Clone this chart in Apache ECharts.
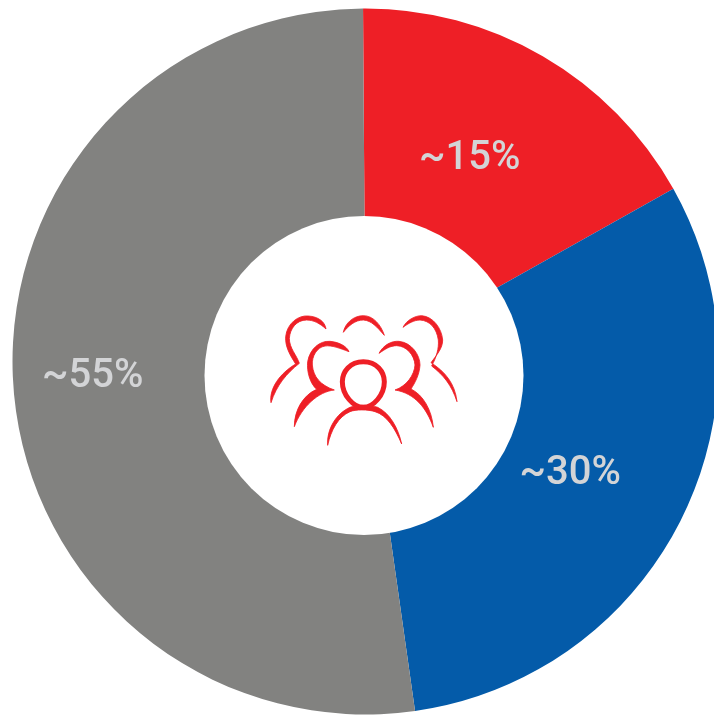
<!DOCTYPE html>
<html>
<head>
<meta charset="utf-8">
<style>
  html, body { margin: 0; padding: 0; background: #fff; }
  #main { width: 714px; height: 716px; }
</style>
<script src="https://cdn.jsdelivr.net/npm/echarts@6/dist/echarts.min.js"></script>
</head>
<body>
<div id="main"></div>
<script>
// values, labels are what the picture prints
var categories = ['Red', 'Blue', 'Grey'];
var values = [16.97, 30.9, 52.13];
var labels = ['~15%', '~30%', '~55%'];
var colors = ['#ee1f26', '#045ba9', '#828280'];

// icon outlines, in 3x pixels of the icon box
var iconFills = [
  'M48 308 C42 265 75 220 122 192 C105 165 90 140 92 110 C96 70 130 45 160 48 C190 50 210 65 213 87 C195 70 175 60 155 60 C125 60 105 85 103 115 C103 145 125 165 133 190 C95 220 65 255 48 308 Z',
  'M265 97 C270 70 295 47 325 47 C355 47 378 75 388 106 C365 80 350 62 325 60 C300 60 280 78 265 97 Z',
  'M444 82 C455 60 480 47 500 47 C535 50 560 85 563 120 C563 145 545 165 528 188 C570 215 600 250 606 305 C590 255 565 225 530 198 C545 170 552 145 550 120 C545 85 525 62 495 60 C478 60 460 70 444 82 Z',
  'M118 380 C118 330 145 285 185 268 C165 250 155 215 158 185 C165 145 195 122 225 124 C250 126 275 138 282 155 C255 145 230 135 210 138 C185 142 170 170 172 195 C175 230 195 255 238 270 C190 275 140 320 118 380 Z',
  'M372 160 C385 135 410 122 432 124 C470 128 495 165 495 195 C493 225 480 248 468 267 C505 285 530 330 535 382 C515 325 480 280 420 270 C455 258 478 225 480 195 C478 165 455 138 425 137 C405 137 390 148 372 160 Z',
  'M218 436 C215 385 245 340 285 322 C305 314 345 314 368 322 C405 340 430 385 440 432 C420 385 395 345 360 335 C340 328 300 328 285 335 C250 350 228 390 218 436 Z'
];
var iconHead = 'M325 185 C365 185 388 215 388 245 C388 285 355 322 325 322 C295 322 262 285 262 245 C262 215 285 185 325 185 Z';

var labelShift = [[-21, 13], [-19, 2], [-24, -3]];

var myChart = echarts.init(document.getElementById('main'), null, { renderer: 'canvas' });

// the graphic component has no free path type, so hole and icon go through a custom series
// the hole sits lower than the pie centre in the picture
function drawIcon() {
  var parts = [{
    type: 'circle',
    shape: { cx: 364, cy: 375.5, r: 159.5 },
    style: { fill: '#fff' }
  }];
  iconFills.forEach(function (d) {
    parts.push({
      type: 'path',
      x: 255, y: 300, scaleX: 1 / 3, scaleY: 1 / 3,
      shape: { pathData: d },
      style: { fill: '#ee1f26', stroke: '#ee1f26', lineWidth: 2.5, lineJoin: 'round' }
    });
  });
  parts.push({
    type: 'path',
    x: 255, y: 300, scaleX: 1 / 3, scaleY: 1 / 3,
    shape: { pathData: iconHead },
    style: { fill: 'none', stroke: '#ee1f26', lineWidth: 15 }
  });
  return { type: 'group', children: parts };
}

var option = {
  backgroundColor: '#fff',
  animation: false,
  series: [{
    type: 'pie',
    center: [365.5, 361.5],
    radius: [140, 353],
    startAngle: 90.4,
    clockwise: true,
    silent: true,
    data: categories.map(function (c, i) {
      return { name: c, value: values[i], itemStyle: { color: colors[i] } };
    }),
    label: {
      show: true,
      position: 'inside',
      formatter: function (p) { return labels[p.dataIndex]; },
      fontFamily: 'Roboto',
      fontSize: 40,
      fontWeight: 500,
      color: '#d3d4d6'
    },
    labelLine: { show: false },
    labelLayout: function (p) {
      return { dx: labelShift[p.dataIndex][0], dy: labelShift[p.dataIndex][1] };
    }
  }, {
    type: 'custom',
    coordinateSystem: 'none',
    silent: true,
    z: 5,
    data: [[0]],
    renderItem: drawIcon
  }]
};

myChart.setOption(option);
</script>
</body>
</html>
